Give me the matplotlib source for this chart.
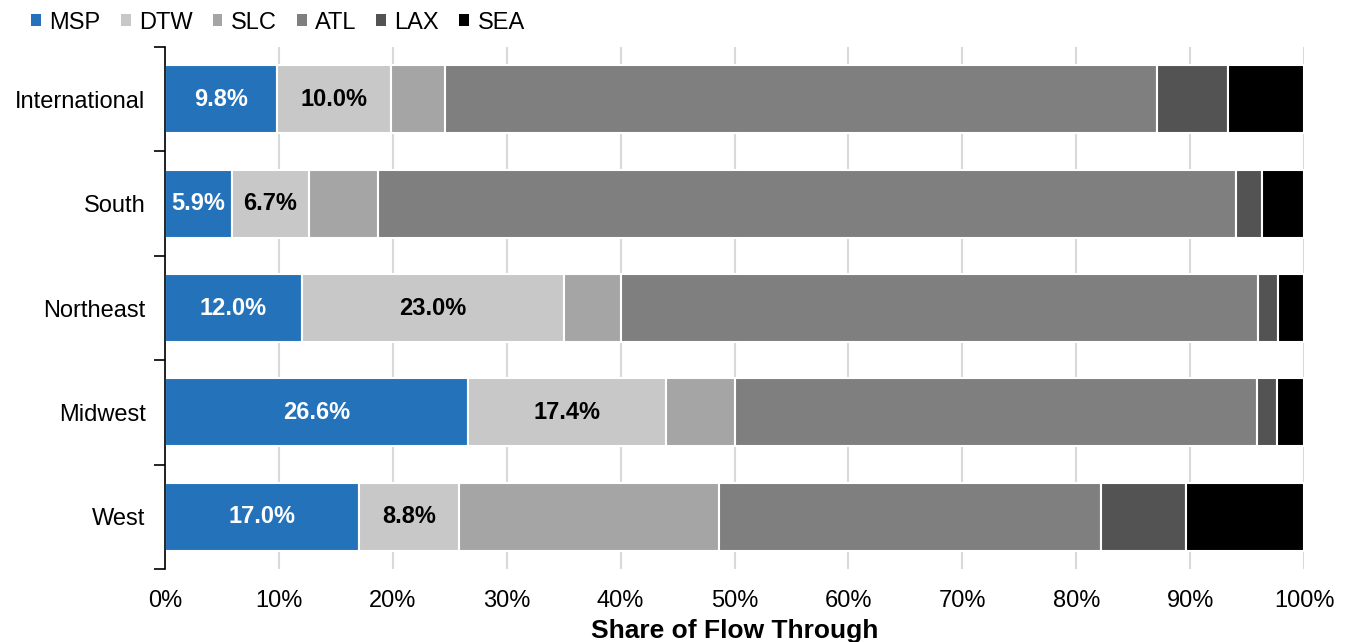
import matplotlib
matplotlib.use("Agg")
import matplotlib.pyplot as plt
import numpy as np
from matplotlib.ticker import FixedLocator, PercentFormatter

plt.rcParams['font.family'] = ['Liberation Sans', 'DejaVu Sans']

regions = ["International", "South", "Northeast", "Midwest", "West"]
series = ["MSP", "DTW", "SLC", "ATL", "LAX", "SEA"]
msp = [9.8, 5.9, 12.0, 26.6, 17.0]
dtw = [10.0, 6.7, 23.0, 17.4, 8.8]
slc = [4.8, 6.1, 5.0, 6.0, 22.8]
atl = [62.5, 75.3, 56.0, 45.9, 33.6]
lax = [6.2, 2.3, 1.7, 1.7, 7.4]
sea = [6.7, 3.7, 2.3, 2.4, 10.4]
colors = ["#2372BA", "#C8C8C8", "#A5A5A5", "#7F7F7F", "#535353", "#000000"]
label_series = {"MSP": "white", "DTW": "black"}

data = [msp, dtw, slc, atl, lax, sea]

fig = plt.figure(figsize=(13.53, 6.42), dpi=100)
ax = fig.add_axes([165/1353, 1-569/642, (1304-165)/1353, (569-47)/642])

y = np.arange(len(regions))
left = np.zeros(len(regions))
for name, vals, col in zip(series, data, colors):
    vals = np.array(vals)
    ax.barh(y, vals, left=left, height=0.65, color=col, edgecolor='white',
            linewidth=1.5, label=name, zorder=3)
    if name in label_series:
        for yi, l, v in zip(y, left, vals):
            ax.text(l + v/2, yi, f"{v:.1f}%", ha='center', va='center',
                    color=label_series[name], fontsize=17, fontweight='bold', zorder=4)
    left += vals

ax.set_xlim(0, 100)
ax.set_ylim(4.5, -0.5)
ax.set_yticks(y)
ax.set_yticklabels(regions, fontsize=17)
ax.yaxis.set_minor_locator(FixedLocator(np.arange(-0.5, 5.0, 1.0)))
ax.tick_params(axis='y', which='major', length=0, pad=14)
ax.tick_params(axis='y', which='minor', length=8, width=1.2, color='black')
ax.set_xticks(np.arange(0, 101, 10))
ax.xaxis.set_major_formatter(PercentFormatter(decimals=0))
ax.tick_params(axis='x', length=0, labelsize=17, pad=15)
ax.grid(axis='x', color='#D9D9D9', linewidth=1.5, zorder=0)
for s in ['top', 'right', 'bottom']:
    ax.spines[s].set_visible(False)
ax.spines['left'].set_color('black')
ax.spines['left'].set_linewidth(1.2)
ax.spines['left'].set_zorder(5)
ax.set_xlabel("Share of Flow Through", fontsize=19, fontweight='bold', labelpad=5)

leg = fig.legend(loc='upper left', bbox_to_anchor=(0.0074, 1.015), ncol=6, frameon=False,
                 fontsize=17, handlelength=0.42, handleheight=0.42, handletextpad=0.35,
                 columnspacing=0.85)
for h in leg.legend_handles:
    h.set_edgecolor('none')
    h.set_linewidth(0)

fig.savefig("out.png", dpi=100)
